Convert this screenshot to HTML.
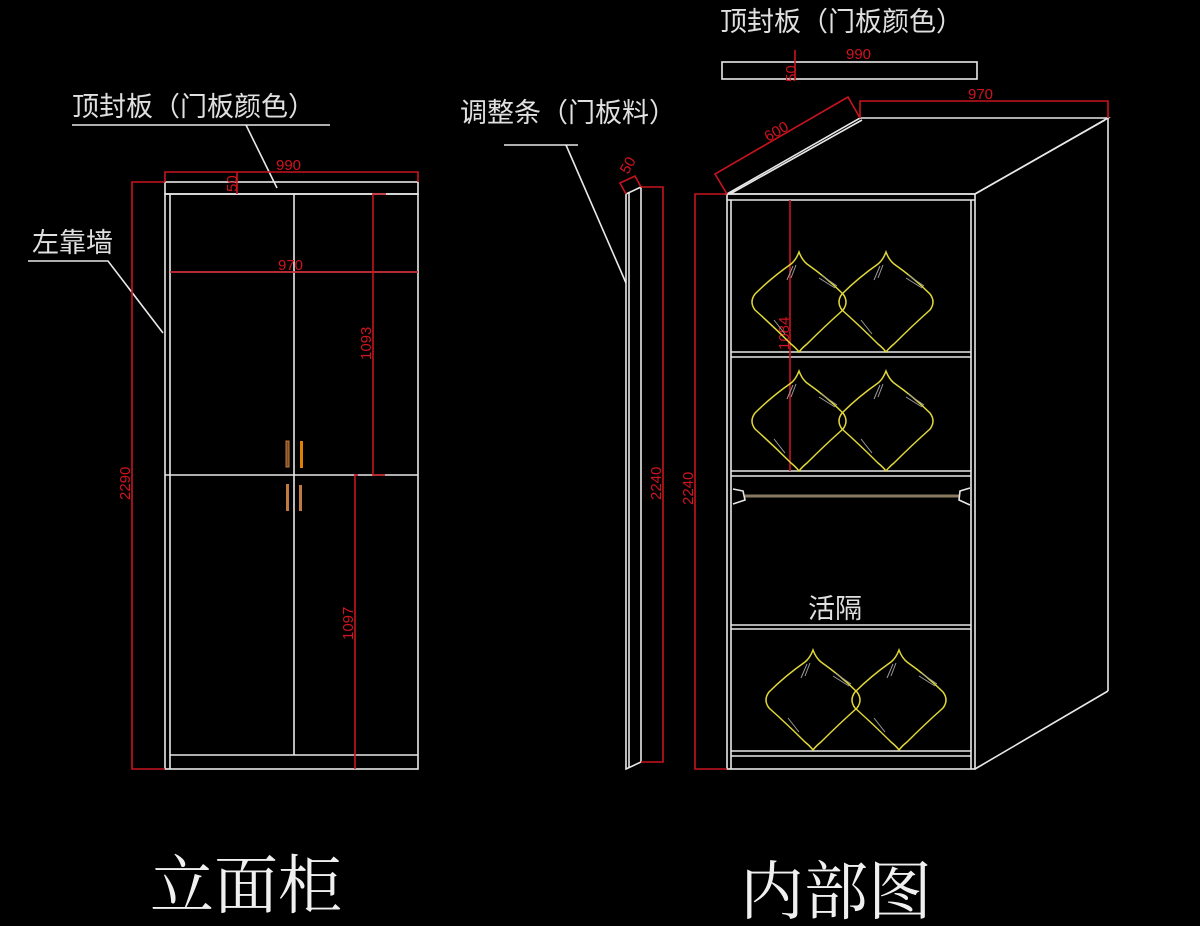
<!DOCTYPE html>
<html><head><meta charset="utf-8"><style>
html,body{margin:0;padding:0;background:#000;}
svg{display:block}
.w{stroke:#e8e8e8;stroke-width:1.6;fill:none}
.r{stroke:#c8141e;stroke-width:1.6;fill:none}
.y{stroke:#e0d838;stroke-width:1.5;fill:none}
.g{stroke:#9a9a9a;stroke-width:1;fill:none}
.t{fill:#e0e0e0;font-family:"Liberation Sans","Noto Sans CJK SC",sans-serif;font-size:27px}
.d{fill:#d0141e;font-family:"Liberation Sans",sans-serif;font-size:15px}
.big{fill:#f0f0f0;font-family:"Liberation Serif","Noto Serif CJK SC",serif;font-size:64px}
</style></head><body>
<svg width="1200" height="926" viewBox="0 0 1200 926" xmlns="http://www.w3.org/2000/svg">
<rect width="1200" height="926" fill="#000"/>
<defs>
<g id="pil">
<path class="y" d="M0,-50 Q3,-42 8,-38 Q28,-24 44,-8 Q50,0 44,8 Q26,24 8,42 Q3,46 0,50 Q-3,46 -8,42 Q-26,24 -44,8 Q-50,0 -44,-8 Q-28,-24 -8,-38 Q-3,-42 0,-50 Z"/>
<path class="g" d="M-6,-36 L-12,-22 M-3,-37 L-8,-24 M20,-24 L36,-14 M22,-27 L38,-16 M-25,18 L-14,32"/>
</g>
</defs>

<text class="t" x="72" y="116">顶封板（门板颜色）</text>
<polyline class="w" points="72,125 330,125"/>
<line class="w" x1="246" y1="125" x2="277" y2="188"/>
<text class="t" x="32" y="252">左靠墙</text>
<polyline class="w" points="28,261 108,261 163,333"/>

<rect class="w" x="165" y="182" width="253" height="12"/>
<rect class="w" x="165" y="194" width="253" height="575"/>
<line class="w" x1="170" y1="194" x2="170" y2="769"/>
<line class="w" x1="294" y1="194" x2="294" y2="755"/>
<line class="w" x1="170" y1="272" x2="418" y2="272"/>
<line class="w" x1="165" y1="475" x2="418" y2="475"/>
<line class="w" x1="170" y1="755" x2="418" y2="755"/>
<rect x="286" y="441" width="3" height="26" fill="#7a4a20" stroke="#c07a40" stroke-width="1"/>
<rect x="300" y="441" width="3" height="27" fill="#e08000"/>
<rect x="286" y="484" width="3" height="27" fill="#c07a40"/>
<rect x="299" y="485" width="3" height="26" fill="#c07a40"/>

<polyline class="r" points="165,182 165,172 418,172 418,182"/>
<text class="d" x="276" y="170">990</text>
<line class="r" x1="237" y1="172" x2="237" y2="194"/>
<text class="d" transform="translate(237,180) rotate(-90)" x="-12" y="0">50</text>
<polyline class="r" points="165,182 132,182 132,769 165,769"/>
<text class="d" transform="translate(130,500) rotate(-90)">2290</text>
<line class="r" x1="170" y1="272" x2="418" y2="272"/>
<text class="d" x="278" y="270">970</text>
<polyline class="r" points="386,194 373,194 373,475 385,475"/>
<text class="d" transform="translate(371,360) rotate(-90)">1093</text>
<polyline class="r" points="355,769 355,475 358,475"/>
<text class="d" transform="translate(353,640) rotate(-90)">1097</text>

<text class="big" x="150" y="908">立面柜</text>

<text class="t" x="460" y="122">调整条（门板料）</text>
<line class="w" x1="504" y1="145" x2="578" y2="145"/>
<line class="w" x1="566" y1="145" x2="626" y2="283"/>
<polygon class="w" points="626,194 641,187 641,762 626,769"/>
<line class="w" x1="629" y1="193" x2="629" y2="768"/>
<polyline class="r" points="641,187 663,187 663,762 641,762"/>
<text class="d" transform="translate(661,500) rotate(-90)">2240</text>
<polyline class="r" points="626,194 620,183 635,176 641,187"/>
<text class="d" transform="translate(628,175) rotate(-60)">50</text>

<text class="t" x="720" y="31">顶封板（门板颜色）</text>
<rect class="w" x="722" y="62" width="255" height="17"/>
<text class="d" x="846" y="59">990</text>
<line class="r" x1="795" y1="50" x2="795" y2="79"/>
<text class="d" transform="translate(796,70) rotate(-90)" x="-12">50</text>

<polygon class="w" points="727,194 860,118 1108,118 975,194"/>
<line class="w" x1="730" y1="194" x2="862" y2="120"/>
<line class="w" x1="975" y1="194" x2="1105" y2="120"/>
<line class="w" x1="1108" y1="118" x2="1108" y2="691"/>
<line class="w" x1="975" y1="769" x2="1108" y2="691"/>
<rect class="w" x="727" y="194" width="248" height="575"/>
<line class="w" x1="731" y1="200" x2="731" y2="769"/>
<line class="w" x1="971" y1="200" x2="971" y2="769"/>
<line class="w" x1="727" y1="200" x2="975" y2="200"/>
<line class="w" x1="731" y1="352" x2="971" y2="352"/>
<line class="w" x1="731" y1="357" x2="971" y2="357"/>
<line class="w" x1="731" y1="471" x2="971" y2="471"/>
<line class="w" x1="731" y1="476" x2="971" y2="476"/>
<line class="w" x1="731" y1="625" x2="971" y2="625"/>
<line class="w" x1="731" y1="629" x2="971" y2="629"/>
<line class="w" x1="731" y1="751" x2="971" y2="751"/>
<line class="w" x1="731" y1="756" x2="971" y2="756"/>
<line x1="745" y1="496" x2="959" y2="496" stroke="#8a7a60" stroke-width="3"/>
<polyline class="w" points="733,489 743,491 745,500 733,504"/>
<polyline class="w" points="970,488 960,491 959,500 970,505"/>

<polyline class="r" points="727,194 695,194 695,769 727,769"/>
<text class="d" transform="translate(693,505) rotate(-90)">2240</text>
<polyline class="r" points="727,194 715,174 848,97 860,118"/>
<text class="d" transform="translate(768,142) rotate(-30)">600</text>
<polyline class="r" points="860,118 860,101 1108,101 1108,118"/>
<text class="d" x="968" y="99">970</text>
<line class="r" x1="790" y1="200" x2="790" y2="471"/>
<text class="d" transform="translate(789,350) rotate(-90)">1084</text>

<use href="#pil" transform="translate(799,302)"/>
<use href="#pil" transform="translate(886,302)"/>
<use href="#pil" transform="translate(799,421)"/>
<use href="#pil" transform="translate(886,421)"/>
<use href="#pil" transform="translate(813,700)"/>
<use href="#pil" transform="translate(899,700)"/>

<text class="t" x="808" y="618">活隔</text>
<text class="big" x="740" y="914">内部图</text>
</svg>
</body></html>
